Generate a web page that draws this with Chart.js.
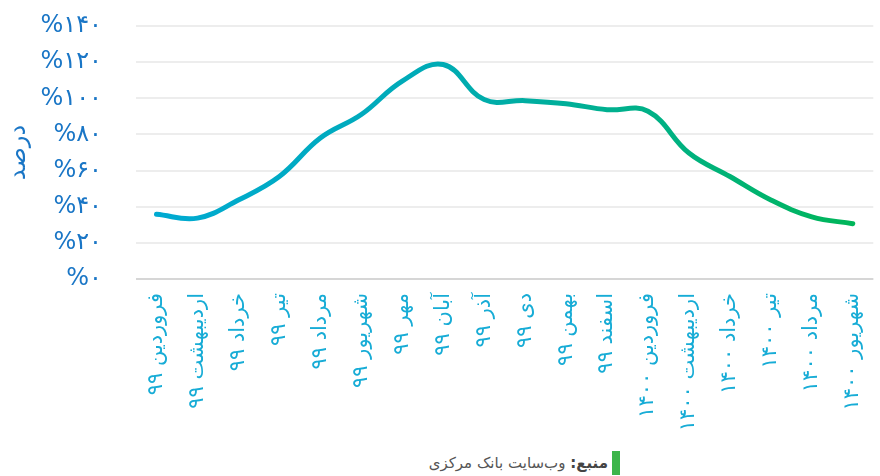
<!DOCTYPE html>
<html>
<head>
<meta charset="utf-8">
<script src="https://cdn.jsdelivr.net/npm/chart.js@4/dist/chart.umd.min.js"></script>
<style>
  html, body { margin: 0; padding: 0; background: #fff; overflow: hidden; width: 880px; height: 476px; }
  #wrap { position: absolute; left: 0; top: 0; width: 892px; height: 446px; }
  #source {
    position: absolute; top: 451px; right: 260px;
    direction: rtl; font-family: "DejaVu Sans", sans-serif; font-size: 15px; color: #555;
    line-height: 24px; padding-right: 4px; border-right: 8px solid #3cb54a;
  }
  #source b { color: #444; }
</style>
</head>
<body>
<div id="wrap"><canvas id="chart"></canvas></div>
<div id="source"><b>منبع:</b> وب‌سایت بانک مرکزی</div>
<script>
var months = ["فروردین ۹۹", "اردیبهشت ۹۹", "خرداد ۹۹", "تیر ۹۹", "مرداد ۹۹", "شهریور ۹۹",
              "مهر ۹۹", "آبان ۹۹", "آذر ۹۹", "دی ۹۹", "بهمن ۹۹", "اسفند ۹۹",
              "فروردین ۱۴۰۰", "اردیبهشت ۱۴۰۰", "خرداد ۱۴۰۰", "تیر ۱۴۰۰", "مرداد ۱۴۰۰", "شهریور ۱۴۰۰"];
var rates = [35.8, 33.7, 43.7, 56.7, 78, 91, 109.5, 118.7, 99.3, 98.7, 97, 93.7, 92.8, 69.7, 56.7, 43.7, 34.4, 30.6];
var yTicks = [0, 20, 40, 60, 80, 100, 120, 140];
var yTickLabels = ["%۰", "%۲۰", "%۴۰", "%۶۰", "%۸۰", "%۱۰۰", "%۱۲۰", "%۱۴۰"];

var lineGradient = function(context) {
    var chart = context.chart;
    var area = chart.chartArea;
    if (!area) return "#00aacf";
    var g = chart.ctx.createLinearGradient(area.left, 0, area.right, 0);
    g.addColorStop(0, "rgb(0,170,212)");
    g.addColorStop(0.4, "rgb(0,171,182)");
    g.addColorStop(0.6, "rgb(0,175,150)");
    g.addColorStop(1, "rgb(0,182,85)");
    return g;
};

var ctx = document.getElementById("chart");
var chart = new Chart(ctx, {
    type: "line",
    data: {
        labels: months,
        datasets: [{
            data: rates,
            borderColor: lineGradient,
            borderWidth: 5,
            borderCapStyle: "round",
            borderJoinStyle: "round",
            pointRadius: 0,
            pointHoverRadius: 0,
            tension: 0.4,
            fill: false
        }]
    },
    options: {
        responsive: true,
        maintainAspectRatio: false,
        animation: false,
        layout: { padding: 0 },
        plugins: { legend: { display: false }, tooltip: { enabled: false } },
        scales: {
            x: {
                offset: true,
                grid: { display: false, drawTicks: false },
                border: { display: false },
                ticks: {
                    autoSkip: false, minRotation: 90, maxRotation: 90, padding: 14,
                    color: "#17acd6",
                    font: { family: "DejaVu Sans", size: 21 }
                },
                afterFit: function(scale) { scale.height = 167; }
            },
            y: {
                min: 0, max: 140,
                afterBuildTicks: function(scale) {
                    scale.ticks = yTicks.map(function(v) { return { value: v }; });
                },
                grid: { color: "#ededed", lineWidth: 2, drawTicks: false },
                border: { display: false },
                ticks: {
                    padding: 34,
                    color: "#1a76c6",
                    font: { family: "DejaVu Sans", size: 24 },
                    callback: function(value) {
                        var i = yTicks.indexOf(value);
                        return i >= 0 ? yTickLabels[i] : "";
                    }
                },
                title: {
                    display: true, text: "درصد", color: "#1a76c6",
                    font: { family: "DejaVu Sans", size: 24 }
                },
                afterFit: function(scale) {
                    scale.width = 136;
                    scale.paddingTop = 26;
                    scale.paddingBottom = 0;
                }
            }
        }
    },
    plugins: [{
        id: "baseLine",
        afterDraw: function(c) {
            var a = c.chartArea, g = c.ctx;
            var y = c.scales.y.getPixelForValue(0);
            g.save();
            g.strokeStyle = "#d6d6d6";
            g.lineWidth = 2;
            g.beginPath(); g.moveTo(a.left, y); g.lineTo(a.right, y); g.stroke();
            g.restore();
        }
    }]
});
</script>
</body>
</html>
